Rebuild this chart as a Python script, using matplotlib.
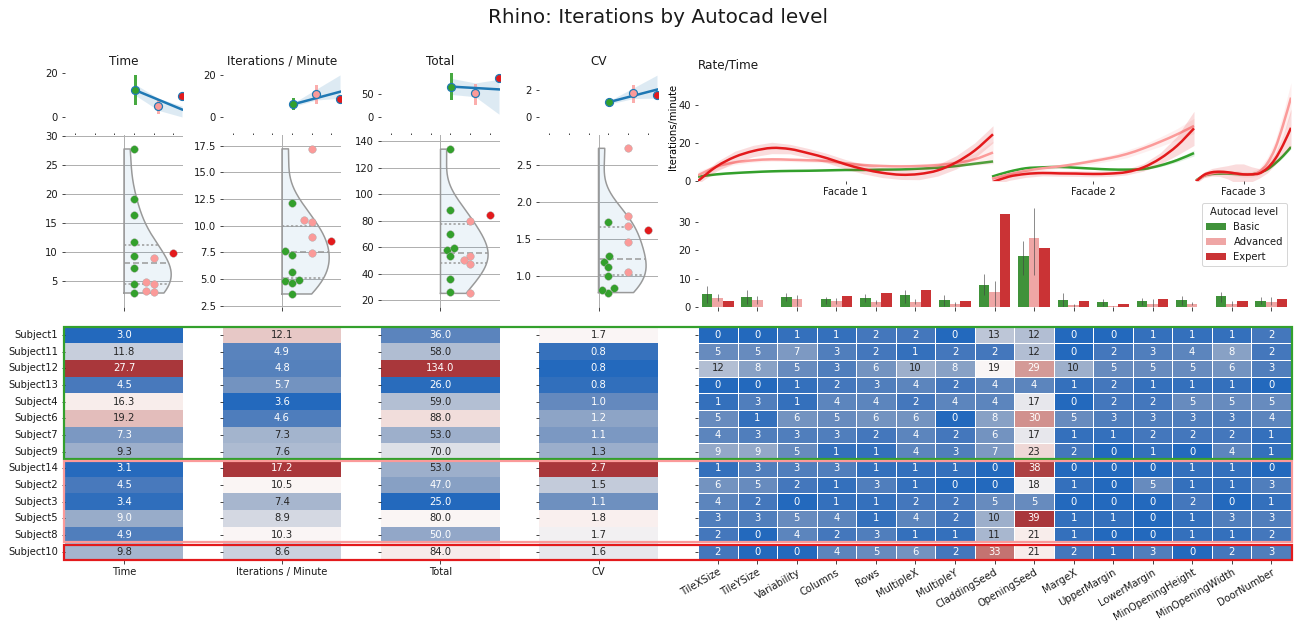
import matplotlib
matplotlib.use("Agg")
import matplotlib.pyplot as plt
from matplotlib.patches import PathPatch, Rectangle
from matplotlib.path import Path
import numpy as np
import seaborn as sns

# Data
subjects = ["Subject1", "Subject11", "Subject12", "Subject13", "Subject4", "Subject6", "Subject7",
            "Subject9", "Subject14", "Subject2", "Subject3", "Subject5", "Subject8", "Subject10"]
time_vals = [3.0, 11.8, 27.7, 4.5, 16.3, 19.2, 7.3, 9.3, 3.1, 4.5, 3.4, 9.0, 4.9, 9.8]
rate_vals = [12.1, 4.9, 4.8, 5.7, 3.6, 4.6, 7.3, 7.6, 17.2, 10.5, 7.4, 8.9, 10.3, 8.6]
total_vals = [36, 58, 134, 26, 59, 88, 53, 70, 53, 47, 25, 80, 50, 84]
cv_vals = [1.74, 0.84, 0.78, 0.82, 1.01, 1.20, 1.12, 1.27, 2.73, 1.46, 1.06, 1.81, 1.68, 1.63]
metric_names = ["Time", "Iterations / Minute", "Total", "CV"]
metric_vals = [time_vals, rate_vals, total_vals, cv_vals]
levels = ["Basic", "Advanced", "Expert"]
params = ["TileXSize", "TileYSize", "Variability", "Columns", "Rows", "MultipleX", "MultipleY", "CladdingSeed",
          "OpeningSeed", "MargeX", "UpperMargin", "LowerMargin", "MinOpeningHeight", "MinOpeningWidth", "DoorNumber"]
param_table = [
    [0, 0, 1, 1, 2, 2, 0, 13, 12, 0, 0, 1, 1, 1, 2],
    [5, 5, 7, 3, 2, 1, 2, 2, 12, 0, 2, 3, 4, 8, 2],
    [12, 8, 5, 3, 6, 10, 8, 19, 29, 10, 5, 5, 5, 6, 3],
    [0, 0, 1, 2, 3, 4, 2, 4, 4, 1, 2, 1, 1, 1, 0],
    [1, 3, 1, 4, 4, 2, 4, 4, 17, 0, 2, 2, 5, 5, 5],
    [5, 1, 6, 5, 6, 6, 0, 8, 30, 5, 3, 3, 3, 3, 4],
    [4, 3, 3, 3, 2, 4, 2, 6, 17, 1, 1, 2, 2, 2, 1],
    [9, 9, 5, 1, 1, 4, 3, 7, 23, 2, 0, 1, 0, 4, 1],
    [1, 3, 3, 3, 1, 1, 1, 0, 38, 0, 0, 0, 1, 1, 0],
    [6, 5, 2, 1, 3, 1, 0, 0, 18, 1, 0, 5, 1, 1, 3],
    [4, 2, 0, 1, 1, 2, 2, 5, 5, 0, 0, 0, 2, 0, 1],
    [3, 3, 5, 4, 1, 4, 2, 10, 39, 1, 1, 0, 1, 3, 3],
    [2, 0, 4, 2, 3, 1, 1, 11, 21, 1, 0, 0, 1, 1, 2],
    [2, 0, 0, 4, 5, 6, 2, 33, 21, 2, 1, 3, 0, 2, 3],
]

# top row: level means, their error bars, fit line ends and the band (left, middle, right)
point_means = [[12.3, 4.9, 9.7], [6.0, 10.8, 8.4], [66, 51.4, 85.5], [1.11, 1.75, 1.65]]
point_lo = [[6.5, 2.4, 9.7], [4.4, 7.3, 8.4], [42, 31, 85.5], [0.9, 1.16, 1.65]]
point_hi = [[18.6, 7.3, 9.7], [8.4, 14.8, 8.4], [93, 69.6, 85.5], [1.3, 2.3, 1.65]]
fit_ends = [[12.3, 3.4], [6.0, 12.0], [66, 60], [1.11, 2.03]]
band_hi = [[15, 8.5, 5], [6.5, 13.3, 20], [84, 74, 82], [1.2, 2.15, 3.1]]
band_lo = [[10, 3, 0], [4.9, 8.1, 8.9], [49, 44, 6], [0.96, 1.36, 1.4]]

# rate over time, one list per level per facade
f1_basic = [2.3, 3.5, 4.2, 4.7, 5.1, 5.3, 5.4, 5.6, 5.8, 5.8, 6.0, 6.1, 6.5, 7.0, 7.9, 9.1, 10.3]
f1_adv = [3.0, 7.5, 9.8, 10.9, 11.4, 11.2, 10.9, 10.5, 9.3, 8.4, 7.9, 7.7, 7.9, 8.4, 9.5, 11.4, 15.0]
f1_exp = [0.0, 7.6, 12.7, 15.8, 17.4, 16.8, 14.6, 12.0, 8.8, 6.2, 4.3, 3.3, 3.7, 5.6, 9.8, 16.0, 24.6]
f1_basic_hw = [0.5, 0.4, 0.4, 0.4, 0.4, 0.4, 0.4, 0.4, 0.4, 0.4, 0.4, 0.4, 0.4, 0.4, 0.5, 0.5, 0.7]
f1_adv_hw = [2.0, 1.5, 1.2, 1.0, 1.0, 1.0, 1.0, 1.0, 1.0, 1.0, 1.0, 1.0, 1.0, 1.2, 1.5, 3.0, 6.0]
f1_exp_hw = [1.5, 2.5, 3.0, 3.0, 3.0, 2.5, 2.5, 2.5, 2.5, 2.5, 2.5, 2.5, 3.0, 3.0, 3.5, 4.0, 4.5]

f2_basic = [2.3, 4.9, 6.7, 7.2, 7.4, 7.0, 6.5, 6.1, 6.0, 6.3, 8.2, 11.0, 14.7]
f2_adv = [1.2, 3.5, 5.4, 6.7, 7.7, 9.0, 10.5, 12.1, 14.2, 17.2, 20.7, 24.6, 29.0]
f2_exp = [-0.7, 2.3, 3.7, 4.2, 4.0, 3.9, 3.7, 3.9, 4.7, 7.2, 11.9, 18.6, 27.7]
f2_basic_hw = [0.5, 0.4, 0.4, 0.4, 0.4, 0.4, 0.4, 0.4, 0.4, 0.5, 0.7, 1.0, 1.5]
f2_adv_hw = [1.0, 1.0, 1.0, 1.0, 1.0, 1.0, 1.5, 1.5, 2.0, 2.0, 2.5, 3.0, 4.0]
f2_exp_hw = [2.0, 2.0, 1.8, 1.5, 1.5, 1.5, 1.5, 1.5, 1.5, 2.0, 3.0, 5.0, 9.0]

f3_basic = [0.3, 2.8, 3.7, 3.9, 3.9, 3.7, 3.5, 3.5, 4.4, 6.1, 9.3, 13.2, 17.9]
f3_adv = [0.0, 2.8, 4.0, 4.6, 4.4, 4.0, 3.5, 3.5, 4.9, 9.3, 17.2, 29.5, 43.9]
f3_exp = [-0.3, 3.2, 4.6, 4.9, 4.6, 4.0, 3.5, 3.5, 4.0, 6.7, 11.6, 19.0, 28.0]
f3_basic_hw = [0.5, 0.5, 0.5, 0.5, 0.5, 0.5, 0.5, 0.5, 0.5, 0.6, 0.7, 0.8, 1.0]
f3_adv_hw = [1.0, 1.0, 1.0, 1.0, 1.0, 1.5, 1.5, 1.5, 2.0, 3.0, 4.0, 6.0, 8.0]
f3_exp_hw = [1.0, 1.5, 2.0, 2.5, 3.5, 5.0, 5.5, 4.0, 2.5, 2.5, 3.0, 5.0, 10.0]

facade_labels = ["Facade 1", "Facade 2", "Facade 3"]

# bar error bars (Expert has a single subject, so none)
basic_err_lo = [1.4, 1.2, 2.0, 1.1, 1.6, 1.4, 0.3, 4.4, 11.4, 0.1, 0.4, 0.8, 0.8, 1.6, 0.9]
basic_err_hi = [7.5, 6.1, 5.0, 3.5, 4.7, 6.1, 4.2, 11.8, 23.3, 5.0, 2.9, 3.3, 3.9, 5.3, 3.5]
adv_err_lo = [2.0, 1.2, 0.4, 1.2, 1.0, 1.0, 0.4, 0.2, 11.4, 0.0, 0.0, 0.0, 0.8, 0.4, 0.8]
adv_err_hi = [4.7, 4.0, 4.2, 3.3, 2.6, 2.8, 1.8, 9.2, 35.0, 1.0, 0.4, 3.0, 1.6, 2.2, 3.5]

# Plot settings
W, H = 1299, 630
GREEN, PINK, RED, BLUE = "#33a02c", "#fb9a99", "#e31a1c", "#1f78b4"
level_colors = [GREEN, PINK, RED]
group_slices = [(0, 8), (8, 13), (13, 14)]

column_edges = [(65, 183), (223, 341), (381, 500), (539, 658)]
top_ylims = [(-7.3, 22.3), (-7.6, 23.3), (-34.8, 106.5), (-1.19, 3.63)]
top_ticks = [[0, 20], [0, 20], [0, 50], [0, 2]]
violin_ylims = [(0.6, 30.1), (2.38, 18.5), (14.7, 144.7), (0.585, 2.91)]
violin_ticks = [[5, 10, 15, 20, 25, 30], [2.5, 5, 7.5, 10, 12.5, 15, 17.5],
                [20, 40, 60, 80, 100, 120, 140], [1, 1.5, 2, 2.5]]
reg_x = [3.05, 4.25, 5.45]

plt.rcParams["font.size"] = 10
plt.rcParams["text.color"] = ".1"
plt.rcParams["xtick.color"] = ".1"
plt.rcParams["ytick.color"] = ".1"

fig = plt.figure(figsize=(W / 72, H / 72), dpi=72)
fig.suptitle("Rhino: Iterations by Autocad level", fontsize=20, x=0.5065, y=0.988)


def px_axes(x0, y0, x1, y1):
    return fig.add_axes([x0 / W, 1 - y1 / H, (x1 - x0) / W, (y1 - y0) / H])


def clear_spines(ax):
    for s in ax.spines.values():
        s.set_visible(False)


def swarm_offsets(vals, y_scale, x_scale, size=7.5):
    # place points low to high, as near the centre as they fit
    order = np.argsort(vals)
    placed = []
    out = np.zeros(len(vals))
    for i in order:
        y = vals[i] * y_scale
        near = [(px, py) for px, py in placed if abs(py - y) < size]
        cands = [0.0]
        for px, py in near:
            dx = np.sqrt(size**2 - (py - y) ** 2)
            cands += [px - dx, px + dx]
        cands = sorted(cands, key=lambda c: (round(abs(c), 3), c))
        for c in cands:
            if all((c - px) ** 2 + (y - py) ** 2 >= size**2 - 1e-6 for px, py in near):
                placed.append((c, y))
                out[i] = c / x_scale
                break
    return out


def curve_patch(xs, ys, color):
    # bezier through the read points so the line does not look like a polygon
    pts = np.column_stack([xs, ys])
    pts = np.vstack([pts[0], pts, pts[-1]])
    verts = [pts[1]]
    codes = [Path.MOVETO]
    for k in range(1, len(pts) - 2):
        verts += [pts[k] + (pts[k + 1] - pts[k - 1]) / 6, pts[k + 1] - (pts[k + 2] - pts[k]) / 6, pts[k + 1]]
        codes += [Path.CURVE4] * 3
    return PathPatch(Path(verts, codes), fc="none", ec=color, lw=2.5)


# Top row and raincloud for each metric
for i, name in enumerate(metric_names):
    x0, x1 = column_edges[i]
    vals = np.array(metric_vals[i], dtype=float)

    ax = px_axes(x0, 68, x1, 133)
    clear_spines(ax)
    ax.fill_between([reg_x[0], (reg_x[0] + reg_x[2]) / 2, reg_x[2]], band_lo[i], band_hi[i],
                    color=BLUE, alpha=0.15, lw=0)
    ax.plot([reg_x[0], reg_x[2]], fit_ends[i], color=BLUE, lw=2.5, zorder=3)
    for j in range(3):
        ax.plot([reg_x[j], reg_x[j]], [point_lo[i][j], point_hi[i][j]], color=level_colors[j],
                lw=3, alpha=0.9 if j == 0 else 0.8, zorder=2)
        ax.plot(reg_x[j], point_means[i][j], "o", ms=8, color=level_colors[j], mec=BLUE, mew=1.2, zorder=4)
    ax.set_xlim(-0.5, 5.5)
    ax.set_ylim(*top_ylims[i])
    ax.set_xticks(range(6))
    ax.set_xticklabels([])
    ax.set_yticks(top_ticks[i])
    ax.tick_params(axis="x", length=2)
    ax.set_title(name, fontsize=12, pad=1)

    ax = px_axes(x0, 135, x1, 307)
    clear_spines(ax)
    ax.set_xlim(-0.5, 5.5)
    ax.set_ylim(*violin_ylims[i])
    ax.set_yticks(violin_ticks[i])
    ax.yaxis.set_major_formatter(plt.ScalarFormatter())
    ax.set_xticks([2.5])
    ax.set_xticklabels([])
    ax.grid(True, color="#b0b0b0", lw=1)
    ax.set_axisbelow(True)

    # half violin, gaussian kde of the subjects with the scott bandwidth
    grid = np.linspace(vals.min(), vals.max(), 200)
    bw = vals.std(ddof=1) * len(vals) ** (-0.2)
    dens = np.exp(-0.5 * ((grid[:, None] - vals) / bw) ** 2).sum(axis=1)
    width = dens / dens.max() * 2.4
    ax.fill_betweenx(grid, 2.5, 2.5 + width, color=BLUE, alpha=0.08, lw=0)
    outline_x = np.r_[2.5, 2.5 + width, 2.5, 2.5]
    outline_y = np.r_[grid[0], grid, grid[-1], grid[0]]
    ax.plot(outline_x, outline_y, color="#999999", lw=1.5, zorder=2)
    q1, med, q3 = np.percentile(vals, [25, 50, 75])
    for q, style in [(q1, (0, (1.5, 1.5))), (med, (0, (4, 2))), (q3, (0, (1.5, 1.5)))]:
        ax.plot([2.5, 2.5 + np.interp(q, grid, width)], [q, q], color="#999999", lw=1.5, ls=style, zorder=2)

    y_scale = 172 / (violin_ylims[i][1] - violin_ylims[i][0])
    for j, (a, b) in enumerate(group_slices):
        part = vals[a:b]
        xs = 3 + j + swarm_offsets(part, y_scale, (x1 - x0) / 6)
        ax.scatter(xs, part, s=58, color=level_colors[j], edgecolor="#aaaaaa", linewidth=0.4, zorder=5)

# Rate over time
ax = px_axes(698, 72, 1291, 181)
clear_spines(ax)
facade_spans = [(0, 295), (294, 496), (498, 593)]
facade_curves = [
    [(f1_basic, f1_basic_hw), (f1_adv, f1_adv_hw), (f1_exp, f1_exp_hw)],
    [(f2_basic, f2_basic_hw), (f2_adv, f2_adv_hw), (f2_exp, f2_exp_hw)],
    [(f3_basic, f3_basic_hw), (f3_adv, f3_adv_hw), (f3_exp, f3_exp_hw)],
]
for (a, b), curves in zip(facade_spans, facade_curves):
    for c, (mean, hw) in enumerate(curves):
        xs = np.linspace(a, b, len(mean))
        mean, hw = np.array(mean), np.array(hw)
        ax.fill_between(xs, mean - hw, mean + hw, color=level_colors[c], alpha=0.15, lw=0)
        ax.add_patch(curve_patch(xs, mean, level_colors[c]))
ax.set_xlim(0, 593)
ax.set_ylim(0, 57.4)
ax.set_yticks([0, 20, 40])
ax.set_xticks([(a + b) / 2 for a, b in facade_spans])
ax.set_xticklabels(facade_labels)
ax.tick_params(axis="x", length=3, pad=3)
ax.set_ylabel("Iterations/minute", labelpad=0)
ax.set_title("Rate/Time", loc="left", fontsize=12, pad=1)

# Parameter means by level
table = np.array(param_table, dtype=float)
ax = px_axes(698, 190, 1291, 307)
ax.patch.set_alpha(0)
clear_spines(ax)
index = np.arange(len(params))
bar_width = 0.8 / 3
lows = [basic_err_lo, adv_err_lo]
highs = [basic_err_hi, adv_err_hi]
for j, (a, b) in enumerate(group_slices):
    pos = index + (j - 1) * bar_width
    ax.bar(pos, table[a:b].mean(axis=0), bar_width, color=sns.desaturate(level_colors[j], 0.75), label=levels[j])
    if j < 2:
        ax.vlines(pos, lows[j], highs[j], color=".26", lw=1, alpha=0.6)
ax.set_xlim(-0.5, 14.5)
ax.set_ylim(0, 41.3)
ax.set_yticks([0, 10, 20, 30])
ax.set_xticks(index)
ax.set_xticklabels([])
ax.legend(title="Autocad level", loc="upper right", bbox_to_anchor=(1287 / W, 1 - 203 / H),
          bbox_transform=fig.transFigure, borderaxespad=0, fontsize=10, title_fontsize=10)

# Heatmaps
for i, name in enumerate(metric_names):
    x0, x1 = column_edges[i]
    ax = px_axes(x0, 326.5, x1, 560)
    sns.heatmap(np.array(metric_vals[i], dtype=float).reshape(-1, 1), ax=ax, cmap="vlag", cbar=False,
                annot=True, fmt=".1f", annot_kws={"fontsize": 10},
                xticklabels=[name], yticklabels=subjects if i == 0 else False)
    ax.set_yticks(np.arange(14) + 0.5)
    if i == 0:
        ax.set_yticklabels(subjects, rotation=0)
    else:
        ax.set_yticklabels([])
    ax.tick_params(length=3.5)

ax = px_axes(698, 326.5, 1291, 560)
sns.heatmap(table, ax=ax, cmap="vlag", cbar=False, annot=True, fmt=".0f", annot_kws={"fontsize": 10},
            linewidths=1, linecolor="white", xticklabels=params, yticklabels=False)
ax.set_yticks(np.arange(14) + 0.5)
ax.set_yticklabels([])
ax.tick_params(length=3.5)
ax.set_xticklabels(params, rotation=30, ha="right", rotation_mode="anchor")

# Group frames across all heatmaps, inner edges pulled in so neighbours sit side by side
row_h = (560 - 326.5) / 14
for (a, b), color in zip(group_slices, level_colors):
    top = 326.5 + a * row_h + (1.2 if a > 0 else 0)
    bottom = 326.5 + b * row_h - (1.2 if b < 14 else 0)
    fig.add_artist(Rectangle((64 / W, 1 - bottom / H), (1292 - 64) / W, (bottom - top) / H,
                             transform=fig.transFigure, fill=False, ec=color, lw=2.2, zorder=10))

plt.savefig("out.png", dpi=72)
plt.close()
